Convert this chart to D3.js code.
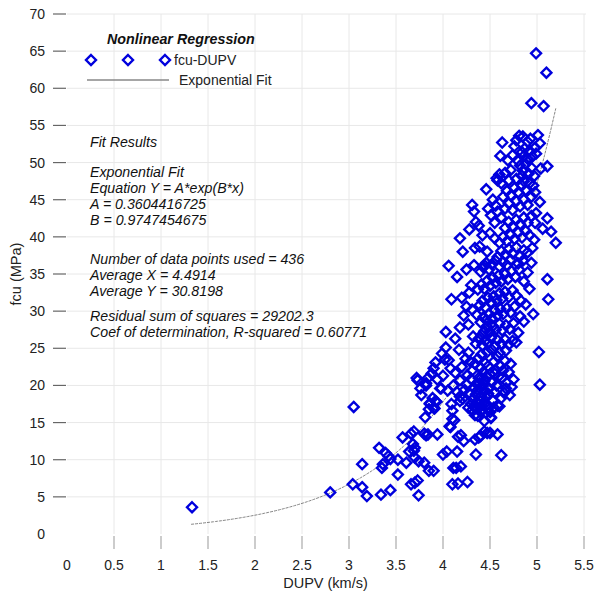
<!DOCTYPE html>
<meta charset="utf-8">
<style>
body { margin: 0; background: #fff; }
text { font-family: "Liberation Sans", Arial, sans-serif; }
.grid line { stroke: #e8e8e8; stroke-width: 1; }
.pt { fill: none; stroke: #0000dd; stroke-width: 2.4; }
.fit { fill: none; stroke: #777; stroke-width: 0.9; stroke-dasharray: 3,1; }
.note { font-size: 14.2px; font-style: italic; fill: #111; }
.tick-label { font-size: 14px; fill: #222; }
</style>
<body>
<script src="https://cdn.jsdelivr.net/npm/d3@7"></script>
<script>
// fcu (MPa) vs DUPV (km/s), grouped by strength band
var bandLow = [
  [1.33,3.6],[2.80,5.6],[3.05,17.1],[3.04,6.7],[3.14,9.4],[3.14,6.3],[3.19,5.1],[3.32,11.6],[3.35,8.9],[3.36,9.4],
  [3.39,10.9],[3.42,10.5],[3.44,10.1],[3.34,5.3],[3.44,5.9],[3.52,10.0],[3.52,8.0],[3.57,13.0],[3.61,9.6],[3.64,11.1],
  [3.66,13.5],[3.69,13.8],[3.68,12.1],[3.70,11.6],[3.69,11.2],[3.70,10.3],[3.74,9.8],[3.66,6.7],[3.70,6.9],[3.73,7.2],
  [3.74,5.2],[3.80,9.6],[3.81,15.7],[3.80,13.5],[3.82,13.3],[3.84,13.4],[3.85,8.5],[3.90,8.5],[3.86,17.5],[3.90,17.0],
  [3.92,17.9],[3.94,13.4],[4.00,10.7],[4.04,11.1],[4.07,14.5],[4.10,15.5],[4.10,16.6],[4.09,17.5],[4.10,6.7],[4.16,6.8],
  [4.11,8.9],[4.14,8.9],[4.19,9.1],[4.15,11.1],[4.16,13.1],[4.19,13.3],[4.22,12.5],[4.26,7.0],[4.35,10.7],[4.34,12.7],
  [4.38,13.0],[4.40,13.2],[4.44,13.8],[4.47,13.6],[4.50,13.6],[4.58,13.4],[4.62,10.6],[4.51,15.7],[4.50,16.4],[4.54,17.0],
  [4.58,17.3],[4.34,16.0],[4.40,16.4],[4.42,16.8],[4.27,17.0],[4.18,17.9],[3.85,16.8],[3.91,16.9],[4.12,15.3],[4.08,14.4],
  [4.30,17.5],[4.33,17.2],[4.36,17.8],[4.38,17.4],[4.31,16.7],[4.45,17.6],[4.48,17.0],[4.40,17.9],[3.93,17.8],[3.86,17.6],
  [4.60,17.2],[4.51,15.6],[4.37,15.9],[4.44,15.2],[4.35,17.0],[4.41,17.3]
];
var bandMid = [
  [3.82,20.0],[3.76,19.6],[3.77,18.7],[3.98,19.6],[3.73,20.7],[3.89,18.3],[4.25,20.1],[4.39,20.3],[4.48,18.9],[4.67,19.6],
  [4.73,19.8],[5.03,20.1],[3.72,21.0],[3.84,21.0],[3.82,20.3],[3.90,22.3],[3.97,19.6],[3.99,24.3],[4.02,23.5],[4.06,23.4],
  [4.08,22.3],[4.17,24.8],[4.24,23.6],[4.20,22.5],[4.18,20.7],[4.26,21.4],[4.18,18.5],[5.02,24.5],[4.32,18.2],[4.35,18.8],
  [4.37,19.4],[4.40,18.6],[4.42,19.9],[4.44,20.6],[4.46,21.2],[4.43,21.8],[4.40,22.4],[4.38,21.0],[4.36,20.2],[4.33,19.6],
  [4.30,20.9],[4.31,22.0],[4.34,22.9],[4.37,23.6],[4.41,24.2],[4.45,23.0],[4.48,22.6],[4.50,21.5],[4.52,20.4],[4.49,19.6],
  [4.46,18.4],[4.53,18.0],[4.55,19.1],[4.57,20.0],[4.59,21.2],[4.56,22.1],[4.54,23.2],[4.58,23.9],[4.61,22.6],[4.63,21.0],
  [4.65,19.0],[4.62,18.3],[4.68,20.4],[4.70,21.8],[4.66,23.3],[4.72,22.9],[4.75,20.8],[4.71,18.7],[4.44,19.2],[4.47,24.5],
  [4.52,24.8],[4.60,24.4],[4.67,24.7],[4.28,19.0],[4.23,19.4],[4.29,23.2],[4.27,24.4],[4.13,21.7],[4.11,20.0],[4.05,19.3],
  [4.00,21.3],[3.94,20.8],[3.88,21.6],[3.92,23.1],[4.21,18.2],[4.15,19.1],[4.03,25.1],[4.41,21.0],[4.55,21.6],[4.64,22.0]
];
var bandUpper = [
  [4.06,36.1],[4.09,31.6],[4.28,32.5],[4.03,27.2],[4.32,26.6],[4.41,26.8],[4.36,29.5],[5.11,34.3],[5.12,31.6],[4.35,25.6],
  [4.38,26.3],[4.42,25.4],[4.45,26.0],[4.48,25.7],[4.51,26.4],[4.55,25.3],[4.58,26.1],[4.62,25.6],[4.66,26.2],[4.70,25.5],
  [4.74,26.0],[4.78,25.8],[4.44,27.3],[4.47,27.9],[4.50,27.2],[4.53,28.0],[4.56,27.5],[4.60,28.3],[4.63,27.4],[4.67,28.1],
  [4.71,27.6],[4.75,28.4],[4.80,27.1],[4.40,28.5],[4.43,29.2],[4.46,28.8],[4.49,29.6],[4.52,29.0],[4.55,30.1],[4.58,29.4],
  [4.61,30.3],[4.64,29.6],[4.68,30.4],[4.72,29.8],[4.76,30.6],[4.82,29.3],[4.86,28.6],[4.39,30.8],[4.42,31.4],[4.45,30.5],
  [4.48,31.8],[4.51,31.2],[4.54,32.0],[4.57,31.5],[4.60,32.4],[4.63,31.7],[4.66,32.6],[4.70,31.9],[4.74,32.8],[4.78,32.1],
  [4.83,31.4],[4.88,30.9],[4.37,32.9],[4.41,33.6],[4.44,33.0],[4.47,34.1],[4.50,33.4],[4.53,34.5],[4.56,33.8],[4.59,34.8],
  [4.62,34.0],[4.66,35.0],[4.69,34.3],[4.73,35.4],[4.77,34.6],[4.81,35.6],[4.86,34.0],[4.90,35.2],[4.40,35.3],[4.43,35.9],
  [4.46,36.5],[4.49,35.6],[4.52,36.3],[4.56,36.8],[4.60,36.0],[4.64,36.6],[4.68,36.2],[4.72,36.9],[4.80,36.4],[4.85,36.8],
  [4.94,36.5],[4.13,26.3],[4.18,27.8],[4.22,29.4],[4.25,30.6],[4.20,31.8],[4.30,33.5],[4.15,34.6],[4.25,35.6],[4.33,36.2],
  [4.27,28.2],[4.31,30.2],[4.92,33.0],[4.96,29.6],[4.44,36.2]
];
var bandHigh = [
  [4.58,47.6],[4.62,47.2],[5.03,44.7],[4.99,43.2],[4.31,44.3],[4.33,43.4],[4.48,43.8],[4.51,42.9],[4.35,42.0],[4.38,41.5],
  [4.55,41.9],[4.18,39.8],[4.21,38.0],[4.34,38.5],[4.39,38.7],[4.55,39.8],[5.11,42.5],[5.15,40.7],[5.20,39.2],[5.06,41.1],
  [4.98,41.9],[4.58,37.3],[4.62,38.1],[4.66,37.6],[4.70,38.4],[4.74,37.8],[4.78,38.6],[4.82,37.4],[4.86,38.2],[4.90,37.9],
  [4.95,38.5],[4.60,39.2],[4.64,40.0],[4.68,39.4],[4.72,40.3],[4.76,39.7],[4.80,40.6],[4.84,39.9],[4.88,40.8],[4.92,40.2],
  [4.97,39.6],[4.50,40.5],[4.47,38.0],[4.66,41.2],[4.70,42.0],[4.74,41.4],[4.78,42.3],[4.82,41.7],[4.86,42.6],[4.90,41.9],
  [4.94,42.8],[4.62,42.6],[4.58,43.4],[4.66,43.8],[4.70,44.5],[4.74,43.6],[4.78,44.8],[4.82,44.1],[4.86,45.0],[4.90,44.3],
  [4.94,45.4],[4.98,46.0],[4.64,45.4],[4.68,46.2],[4.72,45.6],[4.76,46.6],[4.80,46.0],[4.84,46.9],[4.88,46.3],[4.92,47.2],
  [4.96,46.9],[4.70,47.6],[4.78,47.8],[4.86,47.5],[4.53,45.0],[4.56,44.2],[4.42,40.2],[4.28,41.0],[4.46,46.4],[4.57,47.9]
];
var bandTop = [
  [4.63,52.7],[4.78,53.0],[4.81,53.6],[5.01,53.7],[5.03,52.6],[4.90,52.8],[4.93,53.2],[4.61,50.9],[4.69,50.3],[4.74,51.0],
  [4.84,51.4],[4.87,51.9],[5.11,49.5],[5.04,49.2],[4.60,48.4],[4.85,53.5],[4.82,49.6],[4.85,48.9],[4.88,49.8],[4.91,48.5],
  [4.94,49.3],[4.97,48.2],[4.84,48.2],[4.90,50.5],[4.95,50.8],[4.99,51.2],[4.80,50.2],[4.86,50.9],[4.92,51.6],[4.76,52.2],
  [4.72,49.0],[4.66,48.6],[4.98,52.0],[4.99,64.7],[5.10,62.1],[4.94,58.0],[5.07,57.6]
];

var xTicks = [0,0.5,1,1.5,2,2.5,3,3.5,4,4.5,5,5.5],
    yTicks = [0,5,10,15,20,25,30,35,40,45,50,55,60,65,70];

// exponential fit Y = A*exp(B*x) as reported
var fitA = 0.3604416725, fitB = 0.9747454675, fitRange = [1.32, 5.2];

var notes = [
  ["Fit Results", 147],
  ["Exponential Fit", 177],
  ["Equation Y = A*exp(B*x)", 193],
  ["A = 0.3604416725", 209],
  ["B = 0.9747454675", 225],
  ["Number of data points used = 436", 264],
  ["Average X = 4.4914", 280],
  ["Average Y = 30.8198", 296],
  ["Residual sum of squares = 29202.3", 321],
  ["Coef of determination, R-squared = 0.60771", 337]
];

var W = 597, H = 592;
var svg = d3.select("body").append("svg").attr("width", W).attr("height", H);

var x = d3.scaleLinear().domain([0, 5.5]).range([67, 584]),
    y = d3.scaleLinear().domain([0, 70]).range([534, 14]);

// grid
var grid = svg.append("g").attr("class", "grid");
grid.selectAll(".h").data(yTicks.filter(function(d) { return d > 0; }))
  .enter().append("line")
    .attr("x1", 67).attr("x2", 586)
    .attr("y1", function(d) { return y(d); }).attr("y2", function(d) { return y(d); });
grid.selectAll(".v").data(xTicks.filter(function(d) { return d > 0; }))
  .enter().append("line")
    .attr("x1", function(d) { return x(d); }).attr("x2", function(d) { return x(d); })
    .attr("y1", 14).attr("y2", 534);

// y ticks + labels
svg.selectAll(".ytick").data(yTicks.filter(function(d) { return d > 0; }))
  .enter().append("line")
    .attr("x1", 53).attr("x2", 66)
    .attr("y1", function(d) { return y(d); }).attr("y2", function(d) { return y(d); })
    .attr("stroke", "#666").attr("stroke-width", 1.2);
svg.selectAll(".ylab").data(yTicks)
  .enter().append("text")
    .attr("class", "tick-label")
    .attr("x", 45).attr("y", function(d) { return y(d) + 5; })
    .attr("text-anchor", "end")
    .text(function(d) { return d; });

// x ticks + labels
svg.selectAll(".xtick").data(xTicks.filter(function(d) { return d > 0; }))
  .enter().append("line")
    .attr("x1", function(d) { return x(d); }).attr("x2", function(d) { return x(d); })
    .attr("y1", 536).attr("y2", 549)
    .attr("stroke", "#aaa").attr("stroke-width", 1.2);
svg.selectAll(".xlab").data(xTicks)
  .enter().append("text")
    .attr("class", "tick-label")
    .attr("x", function(d) { return x(d); }).attr("y", 570)
    .attr("text-anchor", "middle")
    .text(function(d) { return d; });

svg.append("text").attr("class", "tick-label")
  .attr("x", x(2.75)).attr("y", 588).attr("text-anchor", "middle")
  .style("font-size", "14.5px")
  .text("DUPV (km/s)");
svg.append("text").attr("class", "tick-label")
  .attr("transform", "translate(21," + y(35) + ") rotate(-90)")
  .attr("text-anchor", "middle")
  .style("font-size", "14.5px")
  .text("fcu (MPa)");

// fit curve
var fitX = d3.range(fitRange[0], fitRange[1] + 0.001, 0.02);
svg.append("path").attr("class", "fit")
  .attr("d", d3.line()
    .x(function(d) { return x(d); })
    .y(function(d) { return y(fitA * Math.exp(fitB * d)); })(fitX));

// points
var diamond = "M0,-5L5,0L0,5L-5,0Z";
var allPts = bandLow.concat(bandMid, bandUpper, bandHigh, bandTop);
svg.selectAll(".pt").data(allPts)
  .enter().append("path")
    .attr("class", "pt")
    .attr("d", diamond)
    .attr("transform", function(d) { return "translate(" + x(d[0]) + "," + y(d[1]) + ")"; });

// legend
svg.append("text").attr("x", 107).attr("y", 44)
  .style("font-size", "14.3px").style("font-weight", "bold").style("font-style", "italic").attr("fill", "#111")
  .text("Nonlinear Regression");
[91, 128, 165].forEach(function(lx) {
  svg.append("path").attr("class", "pt").attr("d", diamond)
    .attr("transform", "translate(" + lx + ",60)");
});
svg.append("text").attr("x", 174).attr("y", 65).attr("class", "tick-label").text("fcu-DUPV");
svg.append("line").attr("x1", 87).attr("x2", 169).attr("y1", 80).attr("y2", 80)
  .attr("stroke", "#888").attr("stroke-width", 1.3);
svg.append("text").attr("x", 179).attr("y", 85).attr("class", "tick-label").text("Exponential Fit");

// fit results block
svg.selectAll(".note").data(notes)
  .enter().append("text")
    .attr("class", "note")
    .attr("x", 90).attr("y", function(d) { return d[1]; })
    .text(function(d) { return d[0]; });
</script>
</body>
